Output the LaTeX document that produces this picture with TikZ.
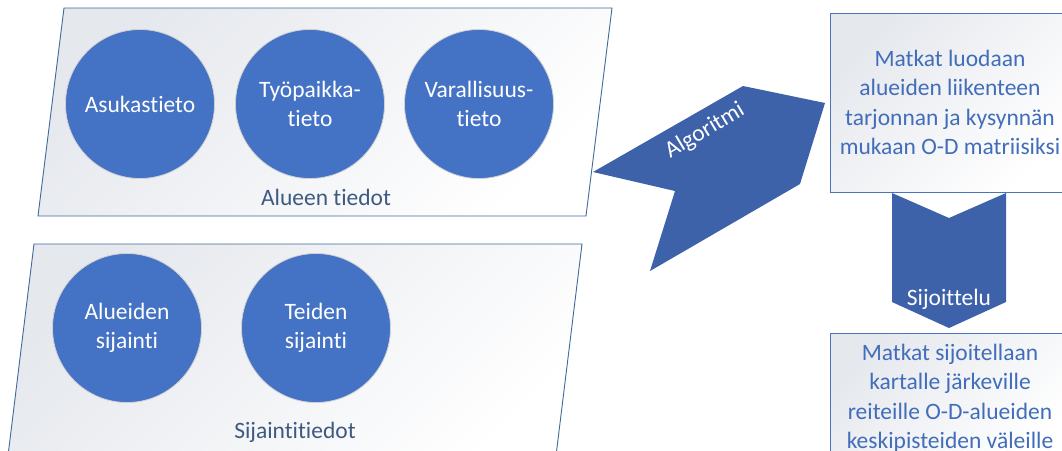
\documentclass[tikz,border=0pt]{standalone}
\usepackage{fontspec}
\setmainfont{Carlito}[Ligatures=NoCommon]
\definecolor{circblue}{HTML}{4472C4}
\definecolor{arrowblue}{HTML}{3D62A9}
\definecolor{frameline}{HTML}{41699A}
\definecolor{labelgray}{HTML}{3E5A80}
\definecolor{boxtext}{HTML}{416DBA}
\definecolor{boxline}{HTML}{4A74C0}
\definecolor{paleshade}{HTML}{E5E8ED}
\definecolor{midshade}{HTML}{F9FAFB}
\begin{document}
\begin{tikzpicture}[x=1pt,y=-1pt,
  txt/.style={font=\fontsize{23.5}{29.5}\selectfont, align=center, inner sep=0pt},
  panel/.style={draw=frameline, line width=0.9pt, top color=paleshade, middle color=midshade, bottom color=white, shading angle=45},
  datum/.style={circle, minimum size=149pt, fill=circblue, draw=black!18, line width=0.8pt, text=white, txt},
  caption/.style={txt, text=labelgray},
  bigarrow/.style={fill=arrowblue, draw=none},
  arrowlabel/.style={txt, text=white},
  stepbox/.style={draw=boxline, line width=0.9pt, top color=paleshade, middle color=midshade, bottom color=white, shading angle=45, minimum width=240pt, text=boxtext, txt}]
\useasboundingbox (0,0) rectangle (1062,450);
\clip (0,0) rectangle (1062,450);
\fill[white] (0,0) rectangle (1062,450);

% area data panel
\path[panel] (64,8) -- (612,8) -- (586,216) -- (38,216) -- cycle;
\node[datum] (asukas) at (140,104) {Asukastieto};
\node[datum] (tyopaikka) at (310,104) {Työpaikka-\\tieto};
\node[datum] (varallisuus) at (479,104) {Varallisuus-\\tieto};
\node[caption] (alue) at (326,197) {Alueen tiedot};

% location data panel
\path[panel] (34,244) -- (582,244) -- (554,472) -- (6,472) -- cycle;
\node[datum] (alueet) at (127,328) {Alueiden\\sijainti};
\node[datum] (tiet) at (316,328) {Teiden\\sijainti};
\node[caption] (sijainti) at (295,432) {Sijaintitiedot};

% O-D matrix box
\node[stepbox, minimum height=179pt] (matriisi) at (950,102.5)
  {Matkat luodaan\\alueiden liikenteen\\tarjonnan ja kysynnän\\mukaan O-D matriisiksi};

% assignment box
\node[stepbox, minimum height=130pt, anchor=north] (reitit) at (950,333)
  {Matkat sijoitellaan\\kartalle järkeville\\reiteille O-D-alueiden\\keskipisteiden väleille};

% algorithm chevron
\path[bigarrow] (593,172) coordinate (algtail) -- (743,86) -- (825,103) -- (800,184)
  -- (650,271) -- (675,191) -- cycle;
\node[arrowlabel, rotate=31] (algoritmi) at (705,131) {Algoritmi};

% assignment chevron
\path[bigarrow] (892,193) -- (949,218) -- (1006,193) -- (1006,302) -- (949,328)
  -- (892,302) -- cycle;
\node[arrowlabel] (sijoittelu) at (949,299) {Sijoittelu};
\end{tikzpicture}
\end{document}
